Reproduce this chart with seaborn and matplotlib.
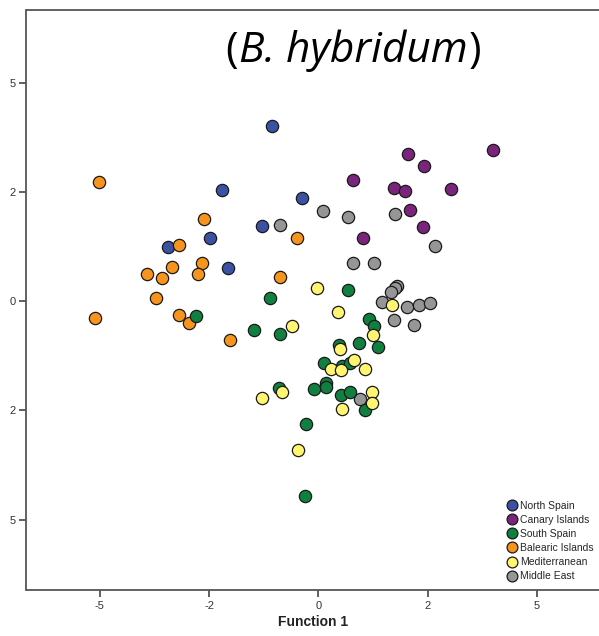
import matplotlib
matplotlib.use("Agg")
import matplotlib.pyplot as plt
import seaborn as sns
import pandas as pd
from matplotlib.lines import Line2D

sns.set_theme(style="white")
plt.rcParams['font.family'] = ['Liberation Sans', 'DejaVu Sans']

groups = ["North Spain", "Canary Islands", "South Spain", "Balearic Islands", "Mediterranean", "Middle East"]
colors = ["#3B52A4", "#7B247C", "#0F8040", "#F7941D", "#FFF570", "#969696"]

north_x = [-1.06, -2.21, -0.38, -1.29, -2.48, -3.44, -2.07]
north_y = [4.00, 2.54, 2.36, 1.72, 1.44, 1.24, 0.76]

canary_x = [2.05, 3.99, 2.41, 0.79, 1.73, 1.98, 3.03, 2.09, 2.39, 1.02]
canary_y = [3.36, 3.46, 3.09, 2.77, 2.59, 2.52, 2.56, 2.08, 1.69, 1.44]

balearic_x = [-5.02, -2.62, -0.49, -3.20, -2.67, -3.35, -2.76, -3.93, -3.58, -0.88, -3.72, -5.11, -3.19, -2.96, -2.03]
balearic_y = [2.72, 1.88, 1.44, 1.28, 0.87, 0.78, 0.62, 0.62, 0.53, 0.55, 0.07, -0.39, -0.32, -0.50, -0.89]

middle_x = [-0.88, 0.10, 0.68, 1.75, 2.67, 0.79, 1.27, 1.80, 1.75, 1.66, 1.45, 2.03, 2.30, 2.55, 1.73, 2.19, 0.95]
middle_y = [1.74, 2.06, 1.92, 1.99, 1.26, 0.87, 0.87, 0.34, 0.30, 0.21, -0.02, -0.14, -0.09, -0.05, -0.43, -0.55, -2.24]

south_x = [-1.11, -2.80, -1.48, -0.88, 0.68, 1.16, 1.27, 0.47, 0.93, 1.36, 0.13, 0.54, 0.72, 0.17, 0.17,
           -0.90, -0.10, 0.51, 0.72, 1.06, -0.29, -0.31]
south_y = [0.07, -0.34, -0.66, -0.76, 0.25, -0.41, -0.57, -1.01, -0.96, -1.05, -1.42, -1.49, -1.42, -1.88, -1.97,
           -1.99, -2.01, -2.15, -2.08, -2.49, -2.81, -4.46]

med_x = [-0.03, 1.68, 0.45, 1.25, -0.61, 0.49, 0.81, 0.29, 0.51, 1.06, -0.84, -1.29, 1.22, 1.22, 0.54, -0.47]
med_y = [0.30, -0.09, -0.25, -0.78, -0.57, -1.10, -1.35, -1.56, -1.58, -1.56, -2.08, -2.22, -2.08, -2.33, -2.47, -3.41]

x_ticks = [-5, -2.5, 0, 2.5, 5]
x_tick_labels = ["-5", "-2", "0", "2", "5"]
y_ticks = [5, 2.5, 0, -2.5, -5]
y_tick_labels = ["5", "2", "0", "2", "5"]

series = [
    ("North Spain", north_x, north_y),
    ("Canary Islands", canary_x, canary_y),
    ("Balearic Islands", balearic_x, balearic_y),
    ("Middle East", middle_x, middle_y),
    ("South Spain", south_x, south_y),
    ("Mediterranean", med_x, med_y),
]
frames = [pd.DataFrame({"x": xs, "y": ys, "group": g}) for g, xs, ys in series]
df = pd.concat(frames, ignore_index=True)
palette = dict(zip(groups, colors))

fig = plt.figure(figsize=(5.99, 6.36), dpi=100)
ax = fig.add_axes([26.5 / 599, 46 / 636, (599 - 26.5) / 599, 580 / 636])

for g, xs, ys in series:
    sub = df[df["group"] == g]
    sns.scatterplot(data=sub, x="x", y="y", color=palette[g], s=78, edgecolor="#1a1a1a",
                    linewidth=0.9, ax=ax, legend=False, zorder=3)

ax.set_xlim(-6.68, 6.42)
ax.set_ylim(-6.61, 6.66)
ax.set_xticks(x_ticks)
ax.set_xticklabels(x_tick_labels)
ax.set_yticks(y_ticks)
ax.set_yticklabels(y_tick_labels)
ax.tick_params(axis="both", which="both", direction="out", length=5, width=1.2,
               color="#444444", labelsize=8, labelcolor="#333333", pad=3,
               bottom=True, left=True)
ax.set_xlabel("Function 1", fontsize=10, fontweight="bold", color="#222222", labelpad=3)
ax.set_ylabel("")

for side in ["left", "bottom", "top"]:
    ax.spines[side].set_visible(True)
    ax.spines[side].set_color("#555555")
    ax.spines[side].set_linewidth(1.3)
ax.spines["right"].set_visible(False)

handles = [Line2D([0], [0], marker="o", linestyle="", markersize=7.8, markerfacecolor=c,
                  markeredgecolor="#1a1a1a", markeredgewidth=0.9) for c in colors]
ax.legend(handles, groups, loc="lower right", bbox_to_anchor=(1.0, 0.005), frameon=False,
          fontsize=7.5, handletextpad=0.05, labelspacing=0.4, borderaxespad=0.15,
          handlelength=1.3)

# Title: upright parentheses around italic species name
tfont = dict(fontsize=30.5, family="Open Sans", color="black", va="center")
mid = fig.text(353 / 599, 1 - 51 / 636, "B. hybridum", fontstyle="italic", ha="center", **tfont)
fig.canvas.draw()
r = fig.canvas.get_renderer()
bb = mid.get_window_extent(renderer=r)
fig.text((bb.x0 - 1) / 599, 1 - 51 / 636, "(", ha="right", **tfont)
fig.text((bb.x1 + 1) / 599, 1 - 51 / 636, ")", ha="left", **tfont)

fig.savefig("out.png", dpi=100)
